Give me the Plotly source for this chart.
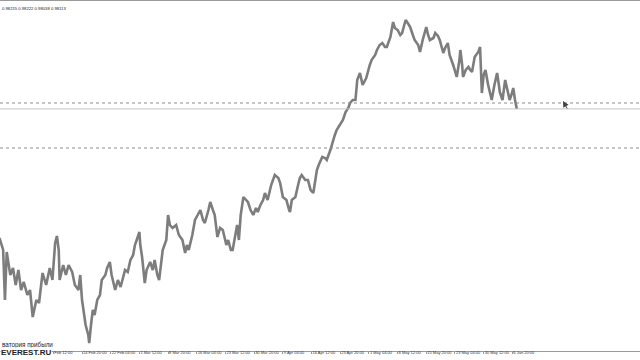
import plotly.graph_objects as go

# H4 bar index (MetaTrader-style, no time gaps) and closing prices
bar_index = [-28, -24, -22, -20, -16, -13, -10, -7, -4, -1, 3, 6, 9, 13, 16, 18, 20, 24, 28, 31,
             34, 36, 38, 39, 43, 46, 49, 53, 56, 60, 62, 64, 66, 68, 71, 72, 74, 76, 78, 81,
             84, 86, 90, 92, 95, 97, 101, 104, 107, 110, 112, 115, 118, 121, 123, 125, 128, 129, 131, 134,
             136, 140, 143, 145, 148, 150, 152, 154, 158, 160, 162, 165, 169, 172, 176, 179, 181, 183, 187, 190,
             193, 196, 199, 201, 205, 207, 210, 212, 215, 218, 221, 225, 227, 230, 232, 235, 237, 239, 241, 244,
             247, 249, 252, 255, 258, 260, 263, 266, 268, 271, 275, 277, 279, 283, 285, 288, 292, 295, 296, 298,
             302, 305, 307, 309, 313, 316, 319, 322, 324, 326, 328, 332, 335, 337, 341, 343, 346, 348, 352, 355,
             358, 361, 363, 366, 369, 371, 374, 377, 381, 383, 385, 387, 391, 393, 396, 399, 402, 404, 408, 411,
             413, 416, 419, 421, 423, 425, 428, 430, 433, 435, 439, 441, 444, 448, 450, 452, 456, 458, 461, 463,
             467, 469, 472, 474, 478, 480, 482, 485, 486, 488, 489, 492, 495, 497, 499, 501, 502, 506, 508, 509,
             510, 512, 514, 517, 519, 521, 524, 527, 529, 530, 533, 535, 536, 538, 541, 544, 545, 547, 549]
close = [0.9424, 0.9388, 0.9238, 0.9382, 0.9313, 0.9334, 0.9283, 0.9328, 0.9268, 0.9292,
         0.9253, 0.9268, 0.9187, 0.9238, 0.9229, 0.9268, 0.9319, 0.9283, 0.9334, 0.9298,
         0.9409, 0.9430, 0.9388, 0.9298, 0.9343, 0.9313, 0.9343, 0.9322, 0.9283, 0.9268,
         0.9313, 0.9238, 0.9193, 0.9163, 0.9133, 0.9109, 0.9163, 0.9208, 0.9193, 0.9238,
         0.9253, 0.9298, 0.9313, 0.9334, 0.9352, 0.9313, 0.9268, 0.9298, 0.9277, 0.9307,
         0.9328, 0.9322, 0.9358, 0.9373, 0.9403, 0.9418, 0.9442, 0.9403, 0.9367, 0.9289,
         0.9328, 0.9352, 0.9328, 0.9358, 0.9313, 0.9298, 0.9352, 0.9388, 0.9418, 0.9493,
         0.9463, 0.9454, 0.9463, 0.9433, 0.9418, 0.9379, 0.9403, 0.9388, 0.9433, 0.9478,
         0.9493, 0.9508, 0.9478, 0.9469, 0.9508, 0.9532, 0.9508, 0.9493, 0.9427, 0.9454,
         0.9448, 0.9403, 0.9418, 0.9388, 0.9388, 0.9433, 0.9463, 0.9418, 0.9493, 0.9547,
         0.9538, 0.9532, 0.9508, 0.9493, 0.9514, 0.9502, 0.9523, 0.9538, 0.9559, 0.9538,
         0.9583, 0.9598, 0.9613, 0.9604, 0.9589, 0.9547, 0.9538, 0.9508, 0.9502, 0.9538,
         0.9547, 0.9583, 0.9604, 0.9613, 0.9598, 0.9598, 0.9568, 0.9559, 0.9598, 0.9628,
         0.9643, 0.9667, 0.9664, 0.9658, 0.9688, 0.9709, 0.9733, 0.9748, 0.9763, 0.9778,
         0.9802, 0.9814, 0.9829, 0.9838, 0.9838, 0.9898, 0.9919, 0.9883, 0.9904, 0.9928,
         0.9943, 0.9958, 0.9973, 0.9988, 1.0003, 1.0009, 0.9997, 0.9997, 1.0027, 1.0072,
         1.0054, 1.0048, 1.0033, 1.0039, 1.0063, 1.0078, 1.0066, 1.0057, 1.0033, 1.0018,
         1.0003, 0.9982, 1.0018, 1.0057, 1.0033, 1.0018, 1.0024, 1.0039, 1.0030, 1.0018,
         0.9979, 0.9994, 1.0009, 0.9973, 0.9943, 0.9922, 0.9907, 0.9958, 0.9988, 0.9943,
         0.9907, 0.9928, 0.9937, 0.9928, 0.9922, 0.9952, 0.9967, 0.9982, 0.9997, 0.9928,
         0.9859, 0.9913, 0.9928, 0.9883, 0.9862, 0.9838, 0.9883, 0.9919, 0.9883, 0.9862,
         0.9838, 0.9883, 0.9898, 0.9874, 0.9838, 0.9862, 0.9874, 0.9838, 0.9811]

# Time-scale labels (every 32 H4 bars)
tick_bars = [32, 64, 96, 128, 160, 192, 224, 256, 288, 320, 352, 384, 416, 448, 480, 512, 544]
tick_labels = ["Feb 12:00", "14 Feb 20:00", "22 Feb 04:00", "1 Mar 12:00", "8 Mar 20:00",
               "16 Mar 04:00", "23 Mar 12:00", "30 Mar 20:00", "9 Apr 04:00", "16 Apr 12:00",
               "23 Apr 20:00", "1 May 04:00", "8 May 12:00", "15 May 20:00", "23 May 04:00",
               "30 May 12:00", "6 Jun 20:00"]

# Horizontal levels
dotted_levels = [0.9829, 0.9694]
bid_level = 0.98113
ohlc_text = "0.98215 0.98222 0.98038 0.98113"

fig = go.Figure()
for lv in dotted_levels:
    fig.add_hline(y=lv, line=dict(color="#8c8c8c", width=1, dash="dot"))
fig.add_hline(y=bid_level, line=dict(color="#c4c4c4", width=1))

fig.add_trace(go.Scatter(x=bar_index, y=close, mode="lines",
                         line=dict(color="#7d7d7d", width=2.6), hoverinfo="skip"))

fig.update_layout(
    width=640, height=360,
    margin=dict(l=0, r=0, t=1, b=9),
    paper_bgcolor="white", plot_bgcolor="white",
    showlegend=False,
    xaxis=dict(range=[-27.5, 686.4], tickmode="array", tickvals=tick_bars, ticktext=tick_labels,
               showgrid=False, zeroline=False, showline=True, linecolor="#9a9a9a", linewidth=1,
               mirror=True, ticks="outside", ticklen=2, tickcolor="#9a9a9a", tickangle=0,
               ticklabelposition="outside right", ticklabelstandoff=-3,
               tickfont=dict(family="Liberation Sans", size=4, color="#333333"),
               automargin=False),
    yaxis=dict(range=[0.9085, 1.0135], visible=False, showgrid=False, zeroline=False),
)
fig.add_annotation(x=0, y=1, xref="paper", yref="paper", xanchor="left", yanchor="top",
                   yshift=-3, text=ohlc_text, showarrow=False,
                   font=dict(family="Liberation Sans", size=4.2, color="#222222"))
# watermark (plot area spans pixel rows 1..351)
fig.add_annotation(x=0, y=(351 - 345) / 350, xref="paper", yref="paper",
                   xanchor="left", yanchor="middle", showarrow=False,
                   text="ватория прибыли",
                   font=dict(family="Liberation Sans", size=6.3, color="#222222"))
fig.add_annotation(x=0, y=(351 - 352.5) / 350, xref="paper", yref="paper",
                   xanchor="left", yanchor="middle", showarrow=False, bgcolor="white",
                   text="<b>EVEREST.RU</b>", borderpad=0,
                   font=dict(family="Liberation Sans", size=8, color="#222222"))
# mouse pointer left on the chart
fig.add_annotation(x=563 / 640, y=(351 - 101) / 350, xref="paper", yref="paper",
                   text="", showarrow=True, ax=5, ay=9, arrowhead=2, arrowsize=1.2,
                   arrowwidth=1, arrowcolor="#444444")
fig.write_html("out.html")
